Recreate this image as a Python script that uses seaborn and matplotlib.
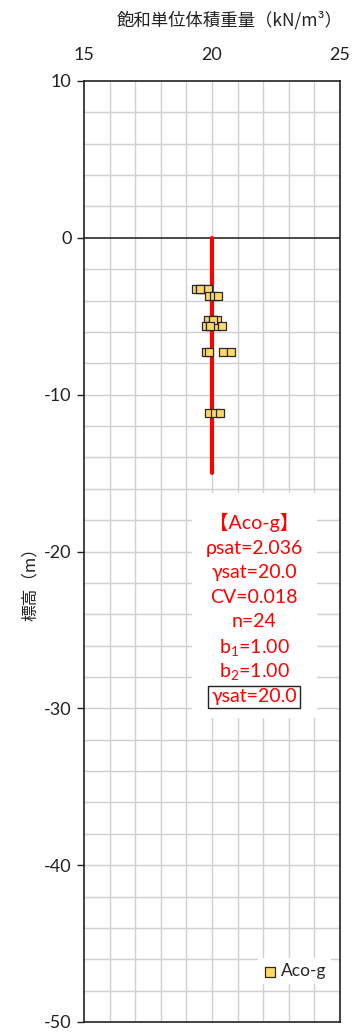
import numpy as np
import pandas as pd
import matplotlib
matplotlib.use("Agg")
import matplotlib.pyplot as plt
import matplotlib.patches as mpatches
import seaborn as sns

# ---- data ----
gamma_sat = [19.38, 19.53, 19.69, 19.84,
             19.88, 20.08, 20.23,
             19.84, 20.04, 20.20,
             19.77, 19.92, 20.16, 20.40,
             19.77, 19.88, 20.43, 20.74,
             19.88, 20.12, 20.31,
             19.53, 20.04, 19.92]
elevation = [-3.25, -3.25, -3.25, -3.25,
             -3.70, -3.70, -3.70,
             -5.25, -5.25, -5.25,
             -5.65, -5.65, -5.65, -5.65,
             -7.30, -7.30, -7.30, -7.30,
             -11.20, -11.20, -11.20,
             -3.25, -5.25, -5.65]
series_name = "Aco-g"
design_x = [20.0, 20.0]
design_y = [0.0, -15.0]
x_ticks = [15, 20, 25]
y_ticks = [10, 0, -10, -20, -30, -40, -50]
info_lines = ["【Aco-g】", "ρsat=2.036", "γsat=20.0", "CV=0.018", "n=24",
              "b$_1$=1.00", "b$_2$=1.00"]
boxed_line = "γsat=20.0"
title = "飽和単位体積重量（kN/m³）"
ylabel = "標高（m）"

df = pd.DataFrame({"gamma": gamma_sat, "elev": elevation, "name": series_name})
line_df = pd.DataFrame({"x": design_x, "y": design_y})

sns.set_theme(style="white")
plt.rcParams["font.family"] = ["Lato", "Noto Sans CJK JP", "DejaVu Sans"]
plt.rcParams["axes.unicode_minus"] = False
plt.rcParams["mathtext.fontset"] = "custom"
plt.rcParams["mathtext.rm"] = "Lato"
plt.rcParams["mathtext.default"] = "rm"

fig = plt.figure(figsize=(3.53, 10.32), dpi=100)
ax = fig.add_axes([84/353, 1-1022/1032, 256/353, 941/1032])

ax.set_xlim(15, 25)
ax.set_ylim(-50, 10)

# grid
for gx in np.arange(16, 25, 1):
    ax.axvline(gx, color="#D0D0D0", lw=1.0, zorder=0.5)
for gy in np.arange(-48, 10, 2):
    if gy != 0:
        ax.axhline(gy, color="#D0D0D0", lw=1.0, zorder=0.5)
ax.axhline(0, color="#3A3A3A", lw=1.3, zorder=0.6)

# design line
sns.lineplot(data=line_df, x="x", y="y", ax=ax, color="#FF0000", lw=3.0,
             sort=False, estimator=None, zorder=2, legend=False)

# points
sns.scatterplot(data=df, x="gamma", y="elev", ax=ax, marker="s", s=36,
                color="#FFD966", edgecolor="#2A2A2A", linewidth=0.9,
                label=series_name, zorder=3)

# ticks
ax.xaxis.tick_top()
ax.xaxis.set_label_position("top")
ax.set_xticks(x_ticks)
ax.set_yticks(y_ticks)
ax.tick_params(axis="x", length=0, pad=13, labelsize=13, colors="#222222")
ax.tick_params(axis="y", length=5, width=1.0, direction="out", pad=4,
               labelsize=13, colors="#222222", left=True)
ax.set_xlabel("")
ax.set_ylabel("")
for sp in ax.spines.values():
    sp.set_color("#222222")
    sp.set_linewidth(1.2)

txt_family = ["Lato", "Noto Sans CJK JP", "DejaVu Sans"]

# text box background
ax.add_patch(mpatches.Rectangle((0.422, 0.323), 0.49, 0.239, transform=ax.transAxes,
                                facecolor="white", edgecolor="none", zorder=4))
ys = [0.5313, 0.5037, 0.4782, 0.4516, 0.4251, 0.3985, 0.3720]
for t, yy in zip(info_lines, ys):
    ax.text(0.664, yy, t, transform=ax.transAxes, ha="center", va="center",
            color="#FF0000", fontsize=14, zorder=5, family=txt_family)
ax.text(0.664, 0.3454, boxed_line, transform=ax.transAxes, ha="center", va="center",
        color="#FF0000", fontsize=14, zorder=5, family=txt_family,
        bbox=dict(boxstyle="square,pad=0.15", facecolor="white",
                  edgecolor="#222222", lw=1.0))

leg = ax.legend(loc="center right", bbox_to_anchor=(1.0, 0.054), frameon=True,
                fancybox=False, edgecolor="none", facecolor="white", framealpha=1,
                fontsize=12.5, handletextpad=0.2, handlelength=0.8,
                borderpad=0.3, markerscale=1.1)
leg.set_zorder(6)

fig.text(230/353, 1-20/1032, title, ha="center", va="center", fontsize=12.5,
         color="#222222", family=["Noto Sans CJK JP", "DejaVu Sans"])
fig.text(30/353, 1-580/1032, ylabel, ha="center", va="center", rotation=90,
         fontsize=12, color="#222222", family=["Noto Sans CJK JP", "DejaVu Sans"])

fig.savefig("out.png", dpi=100)
